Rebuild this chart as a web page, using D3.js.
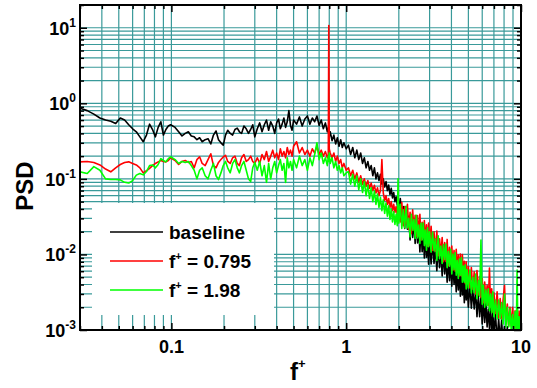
<!DOCTYPE html>
<html>
<head>
<meta charset="utf-8">
<script src="https://cdn.jsdelivr.net/npm/d3@7"></script>
<style>
  body { margin: 0; background: #fff; }
  text { font-family: "Liberation Sans", Arial, Helvetica, sans-serif; font-weight: bold; fill: #000; }
</style>
</head>
<body>
<svg class="chart" width="537" height="388"></svg>
<script>
// frequencies f+ (shared by all three spectra)
var freq = [
  0.030, 0.033, 0.036, 0.039, 0.042, 0.045, 0.048, 0.051, 0.054, 0.057, 0.060, 0.063, 0.066, 0.069, 0.072, 0.075, 0.078, 0.081, 0.084, 0.087, 0.090, 0.093, 0.096, 0.099,
  0.105, 0.110, 0.115, 0.120, 0.125, 0.130, 0.135, 0.140, 0.145, 0.150, 0.156, 0.162, 0.168, 0.174, 0.180, 0.186, 0.192, 0.198, 0.204, 0.210, 0.217, 0.224, 0.231, 0.238, 0.245, 0.252, 0.260, 0.268, 0.276, 0.284, 0.292, 0.300,
  0.31, 0.32, 0.33, 0.34, 0.35, 0.36, 0.37, 0.38, 0.39, 0.40, 0.41, 0.42, 0.43, 0.44, 0.45, 0.46, 0.47, 0.48, 0.49, 0.50, 0.52, 0.54, 0.56, 0.58, 0.60, 0.62, 0.64, 0.66, 0.68, 0.70, 0.72, 0.74, 0.76, 0.78, 0.79, 0.795, 0.80, 0.81, 0.83, 0.85, 0.87, 0.89, 0.91, 0.93, 0.95, 0.97, 1.00,
  1.03, 1.06, 1.09, 1.12, 1.15, 1.18, 1.21, 1.24, 1.27, 1.30, 1.33, 1.36, 1.39, 1.42, 1.45, 1.48, 1.51, 1.54, 1.57, 1.60, 1.63, 1.66, 1.69, 1.72, 1.75, 1.78, 1.81, 1.84, 1.87, 1.90, 1.93, 1.96, 1.98, 2.00,
  2.04, 2.08, 2.12, 2.16, 2.20, 2.24, 2.28, 2.32, 2.36, 2.40, 2.44, 2.48, 2.52, 2.56, 2.60, 2.64, 2.68, 2.72, 2.76, 2.80, 2.84, 2.88, 2.92, 2.96, 3.00,
  3.06, 3.12, 3.18, 3.24, 3.30, 3.36, 3.42, 3.48, 3.54, 3.60, 3.66, 3.72, 3.78, 3.84, 3.90, 3.96, 4.02, 4.08, 4.14, 4.20, 4.26, 4.32, 4.38, 4.44, 4.50, 4.56, 4.62, 4.68, 4.74, 4.80, 4.86, 4.92, 5.00,
  5.1, 5.2, 5.3, 5.4, 5.5, 5.6, 5.7, 5.8, 5.9, 6.0, 6.1, 6.2, 6.3, 6.4, 6.5, 6.6, 6.7, 6.8, 6.9, 7.0, 7.15, 7.3, 7.45, 7.6, 7.75, 7.9, 8.05, 8.2, 8.35, 8.5, 8.65, 8.8, 8.95, 9.1, 9.25, 9.4, 9.5, 9.6, 9.75, 9.9, 10.0
];

var psdBaseline = [
  0.86, 0.80, 0.72, 0.64, 0.60, 0.58, 0.54, 0.64, 0.60, 0.52, 0.46, 0.42, 0.36, 0.31, 0.38, 0.53, 0.45, 0.36, 0.48, 0.57, 0.38, 0.45, 0.50, 0.52,
  0.48, 0.42, 0.37, 0.40, 0.42, 0.37, 0.36, 0.33, 0.35, 0.31, 0.33, 0.34, 0.29, 0.38, 0.43, 0.33, 0.30, 0.28, 0.38, 0.44, 0.40, 0.38, 0.45, 0.47, 0.42, 0.40, 0.50, 0.46, 0.40, 0.45, 0.52, 0.36,
  0.46, 0.55, 0.42, 0.52, 0.60, 0.44, 0.57, 0.50, 0.40, 0.55, 0.62, 0.46, 0.53, 0.64, 0.48, 0.57, 0.80, 0.51, 0.44, 0.60, 0.53, 0.66, 0.50, 0.62, 0.68, 0.53, 0.64, 0.57, 0.68, 0.51, 0.60, 0.46, 0.55, 0.42, 0.48, 0.40, 0.36, 0.42, 0.32, 0.38, 0.29, 0.35, 0.27, 0.33, 0.26, 0.30, 0.25,
  0.28, 0.21, 0.26, 0.19, 0.24, 0.18, 0.22, 0.16, 0.19, 0.14, 0.17, 0.13, 0.15, 0.11, 0.14, 0.10, 0.12, 0.095, 0.115, 0.085, 0.10, 0.078, 0.092, 0.07, 0.083, 0.062, 0.075, 0.056, 0.066, 0.05, 0.058, 0.045, 0.052, 0.04,
  0.055, 0.027, 0.043, 0.022, 0.043, 0.0216, 0.032, 0.0156, 0.0325, 0.0168, 0.0276, 0.014, 0.029, 0.0142, 0.0228, 0.0108, 0.0221, 0.0109, 0.019, 0.009, 0.0186, 0.0092, 0.0152, 0.0074, 0.0156,
  0.0075, 0.0146, 0.0076, 0.0125, 0.0061, 0.0131, 0.0067, 0.0106, 0.0052, 0.0105, 0.0055, 0.0094, 0.0043, 0.009, 0.0045, 0.0076, 0.0038, 0.008, 0.004, 0.0066, 0.0032, 0.0066, 0.0034, 0.0059, 0.0028, 0.0056, 0.0029, 0.0048, 0.0023, 0.005, 0.0025, 0.0041, 0.002,
  0.004, 0.00195, 0.0034, 0.0019, 0.0034, 0.0015, 0.0029, 0.0015, 0.0027, 0.0012, 0.0024, 0.00126, 0.0023, 0.0011, 0.0019, 0.00105, 0.00195, 0.00087, 0.0017, 0.00091, 0.0016, 0.00071, 0.0014, 0.00074, 0.00135, 0.00059, 0.00108, 0.00061, 0.0011, 0.00049, 0.00098, 0.00053, 0.00094, 0.00043, 0.00082, 0.00046, 0.00085, 0.00038, 0.00078, 0.00042, 0.00072
];

var psd0795 = [
  0.168, 0.17, 0.165, 0.153, 0.135, 0.124, 0.14, 0.155, 0.165, 0.168, 0.16, 0.153, 0.14, 0.12, 0.128, 0.138, 0.15, 0.16, 0.168, 0.175, 0.17, 0.168, 0.175, 0.19,
  0.175, 0.155, 0.17, 0.175, 0.165, 0.17, 0.14, 0.18, 0.196, 0.16, 0.15, 0.18, 0.215, 0.15, 0.14, 0.165, 0.18, 0.195, 0.205, 0.17, 0.16, 0.19, 0.20, 0.16, 0.15, 0.19, 0.21, 0.17, 0.18, 0.20, 0.17, 0.16,
  0.19, 0.16, 0.21, 0.18, 0.23, 0.17, 0.20, 0.24, 0.19, 0.22, 0.18, 0.25, 0.20, 0.23, 0.19, 0.26, 0.21, 0.24, 0.20, 0.27, 0.31, 0.22, 0.26, 0.21, 0.24, 0.20, 0.25, 0.22, 0.27, 0.21, 0.24, 0.20, 0.23, 0.19, 0.21, 10.7, 0.25, 0.22, 0.19, 0.22, 0.17, 0.20, 0.16, 0.18, 0.14, 0.16, 0.13,
  0.14, 0.11, 0.13, 0.10, 0.12, 0.09, 0.11, 0.085, 0.10, 0.08, 0.095, 0.075, 0.088, 0.07, 0.082, 0.065, 0.076, 0.06, 0.07, 0.18, 0.065, 0.052, 0.06, 0.046, 0.055, 0.042, 0.05, 0.038, 0.046, 0.036, 0.043, 0.033, 0.04, 0.031,
  0.027, 0.049, 0.024, 0.043, 0.0255, 0.046, 0.0214, 0.036, 0.019, 0.039, 0.021, 0.033, 0.0174, 0.0327, 0.0176, 0.034, 0.0154, 0.0266, 0.0166, 0.028, 0.014, 0.0246, 0.0129, 0.026, 0.0132,
  0.0235, 0.0113, 0.02, 0.011, 0.0204, 0.0096, 0.0161, 0.0098, 0.0167, 0.008, 0.0144, 0.0081, 0.0158, 0.0071, 0.0124, 0.0075, 0.0129, 0.0062, 0.0113, 0.006, 0.0117, 0.0059, 0.0099, 0.0052, 0.0101, 0.0052, 0.01, 0.0046, 0.0081, 0.0041, 0.008, 0.0041, 0.0069,
  0.0036, 0.0067, 0.0035, 0.0059, 0.003, 0.0061, 0.0029, 0.0051, 0.0027, 0.0048, 0.0023, 0.0043, 0.0023, 0.0039, 0.0021, 0.0066, 0.002, 0.0035, 0.00175, 0.0031, 0.00166, 0.0032, 0.00147, 0.0026, 0.00143, 0.0025, 0.0039, 0.00122, 0.0022, 0.00112, 0.002, 0.00112, 0.002, 0.00099, 0.0018, 0.00096, 0.00172, 0.00091, 0.00178, 0.00092, 0.00145
];

var psd198 = [
  0.124, 0.118, 0.145, 0.13, 0.10, 0.098, 0.098, 0.097, 0.09, 0.088, 0.095, 0.112, 0.118, 0.113, 0.125, 0.15, 0.153, 0.14, 0.155, 0.185, 0.175, 0.168, 0.185, 0.196,
  0.18, 0.16, 0.17, 0.165, 0.17, 0.15, 0.13, 0.10, 0.13, 0.14, 0.11, 0.10, 0.13, 0.16, 0.11, 0.098, 0.12, 0.15, 0.17, 0.14, 0.12, 0.16, 0.18, 0.14, 0.12, 0.15, 0.17, 0.13, 0.10, 0.092, 0.14, 0.165,
  0.13, 0.17, 0.11, 0.15, 0.09, 0.16, 0.10, 0.14, 0.17, 0.12, 0.15, 0.18, 0.13, 0.16, 0.09, 0.19, 0.14, 0.17, 0.13, 0.18, 0.14, 0.20, 0.15, 0.18, 0.13, 0.19, 0.15, 0.21, 0.30, 0.18, 0.22, 0.16, 0.19, 0.15, 0.20, 0.17, 0.22, 0.16, 0.19, 0.14, 0.17, 0.13, 0.15, 0.12, 0.14, 0.11, 0.12,
  0.125, 0.085, 0.115, 0.08, 0.11, 0.072, 0.10, 0.066, 0.092, 0.06, 0.083, 0.055, 0.076, 0.05, 0.069, 0.046, 0.063, 0.042, 0.057, 0.038, 0.053, 0.035, 0.048, 0.032, 0.044, 0.029, 0.04, 0.027, 0.037, 0.025, 0.034, 0.024, 0.10, 0.026,
  0.046, 0.022, 0.039, 0.0225, 0.0435, 0.0224, 0.030, 0.017, 0.034, 0.021, 0.029, 0.0163, 0.033, 0.0165, 0.0245, 0.014, 0.026, 0.0155, 0.026, 0.0131, 0.021, 0.0114, 0.0225, 0.0127, 0.020,
  0.0107, 0.0197, 0.0112, 0.0161, 0.0083, 0.0177, 0.0088, 0.0129, 0.0076, 0.0135, 0.0086, 0.0137, 0.0067, 0.011, 0.007, 0.0117, 0.0055, 0.0101, 0.0063, 0.0106, 0.0053, 0.0083, 0.0048, 0.0087, 0.0053, 0.0091, 0.0043, 0.007, 0.0043, 0.0073, 0.0035, 0.0063, 0.0036,
  0.0062, 0.0031, 0.005, 0.0031, 0.0055, 0.0026, 0.0045, 0.0028, 0.0155, 0.0022, 0.0039, 0.002, 0.0034, 0.0021, 0.0035, 0.0018, 0.003, 0.0017, 0.0032, 0.0015, 0.0025, 0.0014, 0.0025, 0.0014, 0.0023, 0.0012, 0.003, 0.0011, 0.002, 0.0011, 0.0019, 0.00095, 0.0016, 0.00092, 0.00175, 0.00092, 0.0062, 0.00089, 0.0015, 0.00078, 0.0013
];

var xTickLabels = ["0.1", "1", "10"];
var xTickValues = [0.1, 1, 10];
var yTickValues = [1e-3, 1e-2, 1e-1, 1, 10];
var yTickExps = ["-3", "-2", "-1", "0", "1"];
var legendNames = ["baseline", "0.795", "1.98"];
var colors = ["#000000", "#ff0000", "#00ff00"];

var margin = {top: 5, right: 16, bottom: 58, left: 80},
  width = 537, height = 388;

var xScale = d3.scaleLog()
  .domain([0.03, 10])
  .range([margin.left, width - margin.right]);

var yScale = d3.scaleLog()
  .domain([0.001, 20])
  .range([height - margin.bottom, margin.top]);

var x0 = xScale.range()[0], x1 = xScale.range()[1],
  y0 = yScale.range()[0], y1 = yScale.range()[1];

var chart = d3.select('.chart');

chart.append('rect')
  .attr('width', width).attr('height', height).attr('fill', '#fff');

// grid
var grid = chart.append('g').attr('stroke', '#3a9a9a').attr('stroke-width', 1.2);
grid.selectAll('.gx')
  .data(xScale.ticks())
  .enter().append('line')
  .attr('x1', d => xScale(d)).attr('x2', d => xScale(d))
  .attr('y1', y1).attr('y2', y0);
grid.selectAll('.gy')
  .data(yScale.ticks())
  .enter().append('line')
  .attr('y1', d => yScale(d)).attr('y2', d => yScale(d))
  .attr('x1', x0).attr('x2', x1);

// spectra
chart.append('clipPath').attr('id', 'plotclip')
  .append('rect')
  .attr('x', x0).attr('y', y1).attr('width', x1 - x0).attr('height', y0 - y1);

var line = d3.line()
  .x(d => xScale(d[0]))
  .y(d => yScale(d[1]));

var series = [psdBaseline, psd0795, psd198];
chart.append('g').attr('clip-path', 'url(#plotclip)')
  .selectAll('path')
  .data(series)
  .enter().append('path')
  .attr('d', s => line(freq.map((f, i) => [f, s[i]])))
  .attr('fill', 'none')
  .attr('stroke', (d, i) => colors[i])
  .attr('stroke-width', 1.6)
  .attr('stroke-linejoin', 'round');

// legend
var legend = chart.append('g');
legend.append('rect')
  .attr('x', 92).attr('y', 203).attr('width', 182).attr('height', 112)
  .attr('fill', '#fff');
var items = legend.selectAll('.item')
  .data(legendNames)
  .enter().append('g')
  .attr('transform', (d, i) => 'translate(110,' + (232 + i * 29) + ')');
items.append('line')
  .attr('x1', 0).attr('x2', 53)
  .attr('stroke', (d, i) => colors[i])
  .attr('stroke-width', 1.6);
items.each(function(d, i) {
  var t = d3.select(this).append('text')
    .attr('x', 59).attr('y', 7).style('font-size', '19px');
  if (i === 0) { t.text(d); return; }
  t.append('tspan').text('f');
  t.append('tspan').text('+').style('font-size', '11px').attr('dy', -8);
  t.append('tspan').text(' = ' + d).attr('dy', 8);
});

// ticks, inward on all four sides
var majorX = xTickValues, minorX = xScale.ticks().filter(d => majorX.indexOf(d) < 0);
var majorY = yTickValues, minorY = yScale.ticks().filter(d => majorY.indexOf(d) < 0 && d <= 20);

function tickAxis(axisFn, scale, vals, size, tr) {
  var g = chart.append('g')
    .attr('transform', tr)
    .call(axisFn(scale).tickValues(vals).tickSize(-size).tickSizeOuter(0).tickFormat(''));
  g.select('.domain').remove();
  g.selectAll('line').attr('stroke', '#000').attr('stroke-width', 1.5);
}
[[minorX, 4], [majorX, 7]].forEach(function(p) {
  tickAxis(d3.axisBottom, xScale, p[0], p[1], 'translate(0,' + y0 + ')');
  tickAxis(d3.axisTop, xScale, p[0], p[1], 'translate(0,' + y1 + ')');
});
[[minorY, 4], [majorY, 7]].forEach(function(p) {
  tickAxis(d3.axisLeft, yScale, p[0], p[1], 'translate(' + x0 + ',0)');
  tickAxis(d3.axisRight, yScale, p[0], p[1], 'translate(' + x1 + ',0)');
});

// frame
chart.append('rect')
  .attr('x', x0).attr('y', y1).attr('width', x1 - x0).attr('height', y0 - y1)
  .attr('fill', 'none').attr('stroke', '#000').attr('stroke-width', 2);

// tick labels
chart.selectAll('.xl')
  .data(xTickValues)
  .enter().append('text')
  .attr('x', d => xScale(d)).attr('y', y0 + 23)
  .attr('text-anchor', 'middle')
  .style('font-size', '18px')
  .text((d, i) => xTickLabels[i]);

var yl = chart.selectAll('.yl')
  .data(yTickValues)
  .enter().append('text')
  .attr('x', x0 - 4).attr('y', d => yScale(d) + 7)
  .attr('text-anchor', 'end')
  .style('font-size', '18px');
yl.append('tspan').text('10');
yl.append('tspan').text((d, i) => yTickExps[i]).style('font-size', '12px').attr('dy', -8);

// axis titles
var xt = chart.append('text')
  .attr('x', 290).attr('y', 380)
  .style('font-size', '24px');
xt.append('tspan').text('f');
xt.append('tspan').text('+').style('font-size', '13px').attr('dy', -12);

chart.append('text')
  .attr('transform', 'translate(33,186) rotate(-90)')
  .attr('text-anchor', 'middle')
  .style('font-size', '24px')
  .text('PSD');
</script>
</body>
</html>
